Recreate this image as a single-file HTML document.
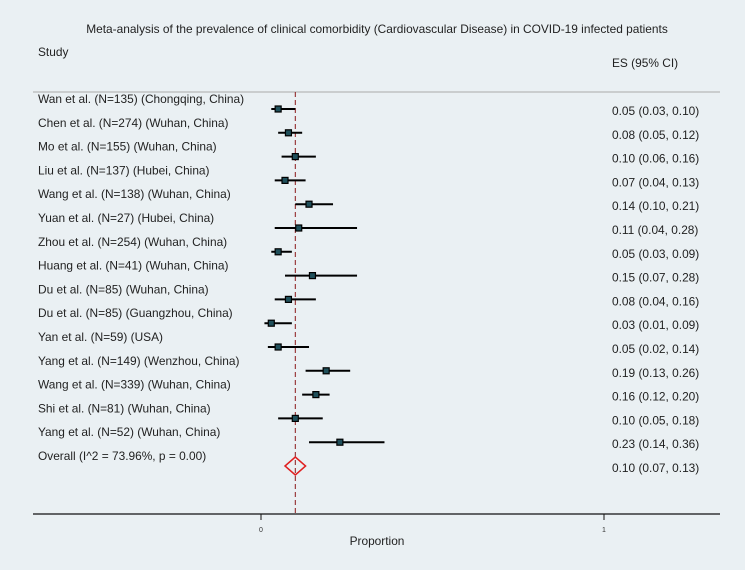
<!DOCTYPE html>
<html><head><meta charset="utf-8"><style>
body{margin:0;background:#eaf0f3;}
svg{display:block;font-family:"Liberation Sans",Arial,sans-serif;}
</style></head><body>
<svg id="c" width="745" height="570" viewBox="0 0 745 570">
<rect width="745" height="570" fill="#eaf0f3"/>
<text x="377" y="33" font-size="11.9" text-anchor="middle" fill="#222">Meta-analysis of the prevalence of clinical comorbidity (Cardiovascular Disease) in COVID-19 infected patients</text>
<text x="38" y="56" font-size="11.9" fill="#222">Study</text>
<text x="612" y="67" font-size="11.9" fill="#222">ES (95% CI)</text>
<line x1="33" y1="92" x2="720" y2="92" stroke="#aaa" stroke-width="1"/>
<line x1="33" y1="514" x2="720" y2="514" stroke="#111" stroke-width="1.3"/>
<text x="377" y="545" font-size="11.9" text-anchor="middle" fill="#222">Proportion</text>
<g id="g"></g>
</svg>
<script>
const studies=["Wan et al. (N=135) (Chongqing, China)","Chen et al. (N=274) (Wuhan, China)","Mo et al. (N=155) (Wuhan, China)","Liu et al. (N=137) (Hubei, China)","Wang et al. (N=138) (Wuhan, China)","Yuan et al. (N=27) (Hubei, China)","Zhou et al. (N=254) (Wuhan, China)","Huang et al. (N=41) (Wuhan, China)","Du et al. (N=85) (Wuhan, China)","Du et al. (N=85) (Guangzhou, China)","Yan et al. (N=59) (USA)","Yang et al. (N=149) (Wenzhou, China)","Wang et al. (N=339) (Wuhan, China)","Shi et al. (N=81) (Wuhan, China)","Yang et al. (N=52) (Wuhan, China)"];
const es=[0.05,0.08,0.10,0.07,0.14,0.11,0.05,0.15,0.08,0.03,0.05,0.19,0.16,0.10,0.23];
const lo=[0.03,0.05,0.06,0.04,0.10,0.04,0.03,0.07,0.04,0.01,0.02,0.13,0.12,0.05,0.14];
const hi=[0.10,0.12,0.16,0.13,0.21,0.28,0.09,0.28,0.16,0.09,0.14,0.26,0.20,0.18,0.36];
const overall=[0.10,0.07,0.13];
const overallLabel="Overall  (I^2 = 73.96%, p = 0.00)";
const ticks=[0,1];
const NS="http://www.w3.org/2000/svg";
const g=document.getElementById('g');
const xs=v=>261+v*343;
const ys=i=>109+i*23.8;
function mk(t,a,txt){const e=document.createElementNS(NS,t);for(const k in a)e.setAttribute(k,a[k]);if(txt!==undefined)e.textContent=txt;g.appendChild(e);return e;}
let e=mk('line',{x1:xs(overall[0]),y1:92,x2:xs(overall[0]),y2:514,stroke:'#8b1a1a','stroke-width':1,'stroke-dasharray':'5,3'});


ticks.forEach(t=>{
 let l=mk('line',{x1:xs(t),y1:514,x2:xs(t),y2:520,stroke:'#111','stroke-width':1});
 
 
 let tx=mk('text',{x:xs(t),y:532,'font-size':7,'text-anchor':'middle',fill:'#333'},String(t));
 
 
});
studies.forEach((s,i)=>{
 const y=ys(i);
 let t=mk('text',{x:38,y:y-6,'font-size':11.9,fill:'#222'},s);
 
 
 let ci=mk('line',{x1:xs(lo[i]),y1:y,x2:xs(hi[i]),y2:y,stroke:'#000','stroke-width':2});
 
 
 let r=mk('rect',{x:xs(es[i])-3,y:y-3,width:6,height:6,fill:'#1f4f5a',stroke:'#000','stroke-width':1.2});
 
 
 let v=mk('text',{x:612,y:y+6,'font-size':11.9,fill:'#222'},es[i].toFixed(2)+" ("+lo[i].toFixed(2)+", "+hi[i].toFixed(2)+")");
 
 
});
const oy=ys(studies.length);
let ol=mk('text',{x:38,y:oy-6,'font-size':11.9,fill:'#222'},overallLabel);


let d=mk('polygon',{points:`${xs(overall[1])},${oy} ${xs(overall[0])},${oy-9} ${xs(overall[2])},${oy} ${xs(overall[0])},${oy+9}`,fill:'none',stroke:'#e02020','stroke-width':1.5});


let ov=mk('text',{x:612,y:oy+6,'font-size':11.9,fill:'#222'},overall[0].toFixed(2)+" ("+overall[1].toFixed(2)+", "+overall[2].toFixed(2)+")");


</script>
</body></html>
